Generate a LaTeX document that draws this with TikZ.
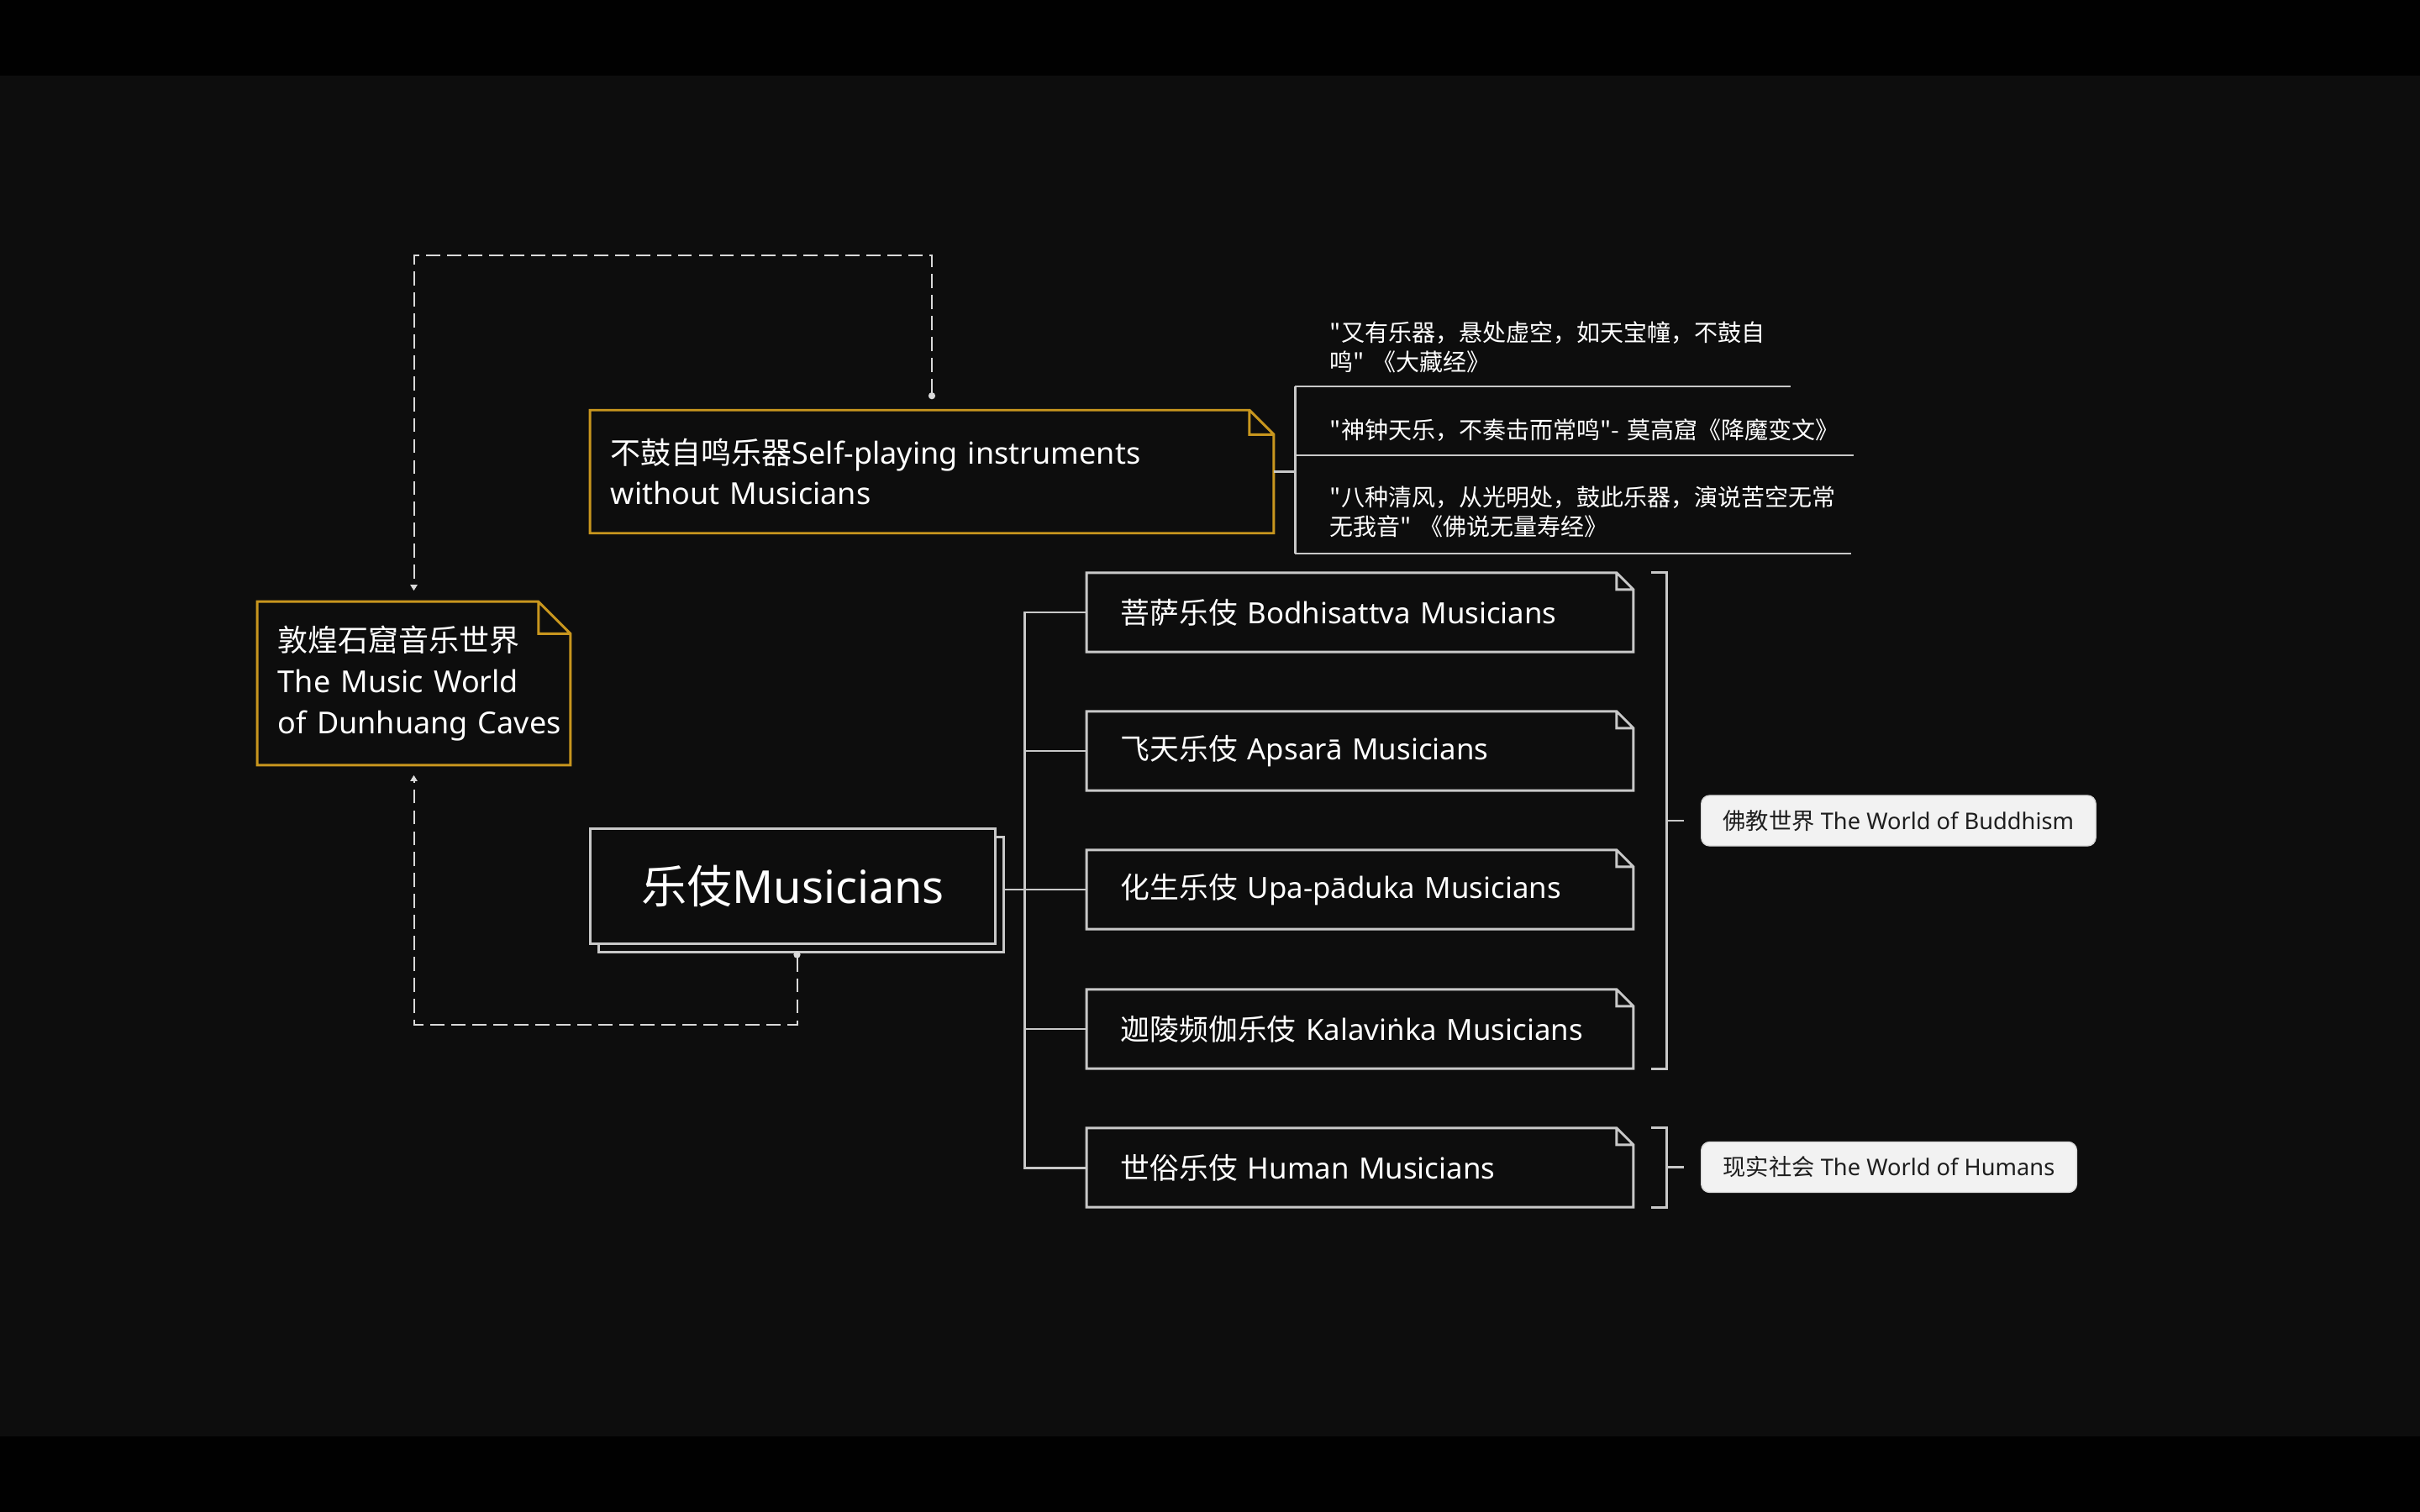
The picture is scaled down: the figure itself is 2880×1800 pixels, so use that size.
\documentclass[tikz,border=0pt]{standalone}
\usepackage{fontspec}
\setmainfont{Noto Sans}
\newfontfamily\cjk{Noto Sans CJK SC}
\usetikzlibrary{arrows.meta,shadows}

\definecolor{bgdark}{HTML}{0D0D0D}
\definecolor{bandblack}{HTML}{010101}
\definecolor{goldline}{HTML}{C8961E}
\definecolor{greyline}{HTML}{C8C8C8}
\definecolor{dashgrey}{HTML}{D9D9D9}
\definecolor{tagfill}{HTML}{F2F2F2}
\definecolor{tagtext}{HTML}{1E1E1E}

% outline with a folded top right corner
\newcommand{\dogear}[3]{%
  \draw[#3, line width=0.85pt, line join=miter]
    (#1.north west) -- ([xshift=-#2]#1.north east) -- ([yshift=-#2]#1.north east)
    -- (#1.south east) -- (#1.south west) -- cycle
    ([xshift=-#2]#1.north east) |- ([yshift=-#2]#1.north east);
}

\tikzset{
  link/.style={draw=greyline, line width=0.85pt},
  dashlink/.style={draw=dashgrey, line width=0.57pt, dash pattern=on 4.8pt off 2.3pt},
  goldnote/.style={fill=bgdark, text=white, inner ysep=0pt, inner xsep=0.24cm, align=left},
  musnote/.style={fill=bgdark, text=white, minimum width=6.49cm, minimum height=0.93cm,
    text width=5.69cm, inner xsep=0.4cm, align=left, font=\fontsize{9.9pt}{12pt}\selectfont},
  quote/.style={text=white, inner xsep=0.41cm, inner ysep=0pt, align=left, anchor=south west,
    font=\cjk\fontsize{7.97pt}{9.96pt}\selectfont},
  tag/.style={fill=tagfill, draw=greyline!70, line width=0.4pt, rounded corners=0.1cm,
    text=tagtext, inner xsep=0.26cm, minimum height=0.6cm, anchor=west,
    font=\fontsize{7.75pt}{10pt}\selectfont},
}

\begin{document}
\begin{tikzpicture}[x=0.01cm, y=-0.01cm]
  \fill[bandblack] (0,0) rectangle (2880,1800);
  \fill[bgdark] (0,90) rectangle (2880,1710);
  \useasboundingbox (0,0) rectangle (2880,1800);

  % main notes
  \node[goldnote, minimum width=3.71cm, minimum height=1.93cm, text width=3.23cm,
    font=\fontsize{10.24pt}{13.94pt}\selectfont] (world) at (492.5,813.5)
    {{\cjk 敦煌石窟音乐世界}\\\mbox{The Music World}\\\mbox{of Dunhuang Caves}};
  \dogear{world}{0.38cm}{goldline}

  \node[goldnote, minimum width=8.12cm, minimum height=1.45cm, text width=7.64cm,
    font=\fontsize{10.24pt}{13.4pt}\selectfont] (sp) at (1109,561.5)
    {\mbox{{\cjk 不鼓自鸣乐器}Self-playing instruments}\\without Musicians};
  \dogear{sp}{0.29cm}{goldline}

  \node[fill=bgdark, draw=greyline, line width=0.85pt,
    copy shadow={shadow xshift=0.1cm, shadow yshift=-0.1cm},
    minimum width=4.81cm, minimum height=1.36cm, text=white,
    font=\fontsize{15.4pt}{18pt}\selectfont] (mus) at (943.5,1055) {{\cjk 乐伎}Musicians};

  % musician types
  \foreach \i/\y/\zh/\en in {1/729/菩萨乐伎/Bodhisattva Musicians,
      2/894/飞天乐伎/Apsarā Musicians,
      3/1059/化生乐伎/Upa-pāduka Musicians,
      4/1225/迦陵频伽乐伎/Kalaviṅka Musicians,
      5/1390/世俗乐伎/Human Musicians} {
    \node[musnote] (b\i) at (1618.5,\y) {{\cjk \zh} \en};
    \dogear{b\i}{0.2cm}{greyline}
  }

  \coordinate (trunk) at (1219,1059);
  \draw[link] (b1.west) -| (trunk |- b5.west) -- (b5.west);
  \foreach \i in {2,3,4}
    \draw[link] (b\i.west) -- (b\i.west -| trunk);
  \draw[link] ([xshift=0.1cm]mus.east |- b3.west) -- (trunk |- b3.west);

  % brackets and tags
  \draw[link] ([shift={(21,0)}]b1.north east) -- ++(19,0) |- ([shift={(21,0)}]b4.south east);
  \draw[link] ([shift={(21,0)}]b5.north east) -- ++(19,0) |- ([shift={(21,0)}]b5.south east);
  \node[tag] (bud) at (2024,977) {{\cjk 佛教世界} The World of Buddhism};
  \node[tag] (hum) at (2024,1389.5) {{\cjk 现实社会} The World of Humans};
  \draw[link] ([shift={(-20,0)}]bud.west) -- ++(-21,0);
  \draw[link] ([shift={(-20,0)}]hum.west) -- ++(-21,0);

  % quotes
  \node[quote, text width=5.06cm, minimum height=0.91cm] (q1) at (1541,460)
    {"又有乐器，悬处虚空，如天宝幢，不鼓自\\鸣" 《大藏经》};
  \node[quote, text width=5.81cm, minimum height=0.58cm] (q2) at (1541,542)
    {\mbox{"神钟天乐，不奏击而常鸣"- 莫高窟《降魔变文》}};
  \node[quote, text width=5.78cm, minimum height=0.97cm] (q3) at (1541,659)
    {"八种清风，从光明处，鼓此乐器，演说苦空无常\\无我音" 《佛说无量寿经》};
  \foreach \q in {q1,q2,q3}
    \draw[link] (\q.south west) -- (\q.south east);
  \draw[link] (q1.south west) -- (q3.south west);
  \draw[link] (sp.east) -- (sp.east -| q1.south west);

  % dashed links to the world note
  \draw[dashlink, {Circle[length=2.3pt]}-{Triangle[length=2pt,width=2.3pt]},
    shorten <=0.13cm, shorten >=0.13cm] (sp.north) -- ++(0,-184) -| (world.north);
  \draw[dashlink, {Circle[length=2.3pt]}-{Triangle[length=2pt,width=2.3pt]},
    shorten >=0.12cm] ([shift={(5,8)}]mus.south) -- ++(0,87) -| (world.south);
\end{tikzpicture}
\end{document}
